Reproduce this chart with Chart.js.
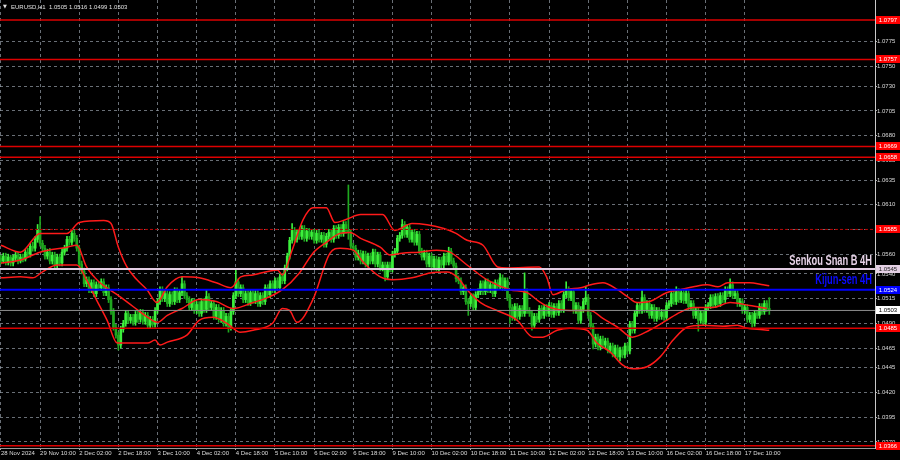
<!DOCTYPE html>
<html><head><meta charset="utf-8">
<script src="https://cdn.jsdelivr.net/npm/chart.js@4.4.1/dist/chart.umd.min.js"></script>
<style>html,body{margin:0;padding:0;background:#000;}canvas{display:block}</style>
</head><body>
<canvas id="c" width="900" height="460" style="width:900px;height:460px"></canvas>
<script>
// ---- DATA (hourly candles, prices in pips above 1.0000, e.g. 555 = 1.0555) ----
const symbol = 'EURUSD,H1';
const openP = [556,553,558,552,557,551,556,559,553,
557,555,562,560,568,566,575,584,
571,566,558,562,553,559,549,557,551,562,566,575,572,581,
576,566,550,543,530,534,524,531,520,529,526,532,521,526,514,502,486,478,468,484,490,500,493,496,
491,499,494,501,492,498,488,494,489,503,512,524,515,520,510,519,512,523,514,521,530,518,514,506,
512,503,509,500,512,504,517,506,510,497,506,494,503,490,497,486,502,518,532,520,526,514,520,511,
521,513,520,510,518,512,526,519,530,524,533,526,537,533,546,558,574,584,575,582,578,586,576,583,
578,582,574,581,575,579,570,578,582,575,586,579,587,581,590,584,582,568,566,557,561,553,560,550,
558,553,562,550,559,546,549,537,549,545,560,563,576,579,590,580,587,575,582,572,580,563,557,561,
550,558,547,555,546,554,549,558,552,563,553,548,535,533,522,526,512,510,517,506,519,522,530,522,
532,524,529,520,531,527,536,526,533,516,506,496,507,497,505,500,522,503,500,488,497,494,505,498,
506,500,508,499,507,501,510,504,519,524,516,522,503,508,493,504,512,516,498,487,469,476,466,474,
468,472,463,467,459,465,456,463,458,467,462,489,483,500,508,503,516,504,510,498,506,495,503,497,
501,496,508,510,520,512,522,514,521,513,520,507,510,498,503,493,500,491,506,508,516,509,517,510,
518,514,524,520,529,518,520,510,512,503,506,494,498,490,500,498,507,502,510,505];
const highP = [559,561,561,560,559,559,562,562,560,
560,565,566,571,572,578,590,598,
574,569,565,566,562,562,560,560,566,569,578,578,585,584,
579,569,553,546,537,537,534,534,532,532,535,535,529,529,517,505,489,481,487,493,503,503,499,499,
502,502,504,504,501,501,497,497,506,515,527,527,523,523,522,522,526,526,524,537,533,521,517,515,
515,512,512,515,515,524,520,513,513,509,509,506,506,500,500,505,521,544,535,529,529,523,523,524,
524,523,523,521,521,529,529,533,533,536,536,540,540,549,561,577,591,587,585,585,589,589,586,586,
585,585,584,584,582,582,581,585,585,589,589,590,590,593,593,630,585,571,569,564,564,563,563,561,
561,565,565,562,562,552,552,552,552,563,566,579,582,595,593,590,590,585,585,583,583,566,564,564,
561,561,558,558,557,557,561,561,567,566,556,551,538,536,529,529,515,520,520,522,525,533,533,535,
535,532,532,534,534,540,539,536,536,519,509,510,510,508,508,541,525,506,503,500,500,508,508,509,
509,511,511,510,510,513,513,522,532,527,525,525,511,511,507,515,527,519,501,490,479,479,477,477,
475,475,470,470,468,468,466,466,470,470,492,492,503,511,511,524,519,513,513,509,509,506,506,504,
504,511,513,523,523,527,525,524,524,523,523,513,513,506,506,503,503,509,511,519,519,520,520,521,
521,527,527,535,532,523,523,515,515,509,509,501,501,503,503,510,510,513,513,516];
const lowP = [550,551,549,549,548,548,553,550,551,
552,553,557,557,563,563,572,568,
563,555,555,550,550,546,546,548,548,559,563,569,569,573,
563,547,540,527,527,521,521,517,517,523,523,518,518,511,499,483,475,463,465,481,487,490,490,488,
488,491,491,489,489,485,485,486,486,500,509,512,512,507,507,509,509,511,511,518,515,511,503,503,
500,500,497,497,501,501,503,503,494,494,491,491,487,487,481,483,499,515,517,517,511,511,508,508,
510,510,507,507,509,509,516,516,521,521,523,523,530,530,543,555,571,572,572,575,575,573,573,575,
575,571,571,572,572,567,567,575,572,572,576,576,578,578,581,575,565,563,554,554,550,550,547,547,
550,550,547,547,543,543,533,534,542,542,557,560,573,576,577,577,572,572,569,569,560,554,554,547,
547,544,544,543,543,546,546,549,549,550,545,532,530,519,519,509,498,507,503,503,516,519,519,519,
521,521,517,517,524,524,523,523,513,490,493,493,494,494,497,497,500,497,483,485,491,491,495,495,
497,497,496,496,498,498,501,501,516,513,513,500,500,490,490,501,509,495,484,464,466,463,463,465,
465,460,460,456,456,453,452,455,455,459,459,480,480,497,500,500,501,501,495,495,492,492,494,494,
493,493,505,507,509,509,511,511,510,510,504,504,495,495,482,490,488,488,503,505,506,506,507,507,
511,511,517,517,515,515,507,507,500,500,491,491,486,487,495,495,499,499,502,499];
const closeP = [553,558,552,557,551,556,559,553,557,
555,562,560,568,566,575,584,571,
566,558,562,553,559,549,557,551,562,566,575,572,581,576,
566,550,543,530,534,524,531,520,529,526,532,521,526,514,502,486,478,468,484,490,500,493,496,491,
499,494,501,492,498,488,494,489,503,512,524,515,520,510,519,512,523,514,521,530,518,514,506,512,
503,509,500,512,504,517,506,510,497,506,494,503,490,497,486,502,518,532,520,526,514,520,511,521,
513,520,510,518,512,526,519,530,524,533,526,537,533,546,558,574,584,575,582,578,586,576,583,578,
582,574,581,575,579,570,578,582,575,586,579,587,581,590,584,582,568,566,557,561,553,560,550,558,
553,562,550,559,546,549,537,549,545,560,563,576,579,590,580,587,575,582,572,580,563,557,561,550,
558,547,555,546,554,549,558,552,563,553,548,535,533,522,526,512,510,517,506,519,522,530,522,532,
524,529,520,531,527,536,526,533,516,506,496,507,497,505,500,522,503,500,488,497,494,505,498,506,
500,508,499,507,501,510,504,519,524,516,522,503,508,493,504,512,516,498,487,469,476,466,474,468,
472,463,467,459,465,456,463,458,467,462,489,483,500,508,503,516,504,510,498,506,495,503,497,501,
496,508,510,520,512,522,514,521,513,520,507,510,498,503,493,500,491,506,508,516,509,517,510,518,
514,524,520,529,518,520,510,512,503,506,494,498,490,500,498,507,502,510,505,503];

// time axis labels and the bar (hour number) each one belongs to
const timeLabels = ['28 Nov 2024','29 Nov 10:00','2 Dec 02:00','2 Dec 18:00','3 Dec 10:00','4 Dec 02:00','4 Dec 18:00','5 Dec 10:00','6 Dec 02:00','6 Dec 18:00','9 Dec 10:00','10 Dec 02:00','10 Dec 18:00','11 Dec 10:00','12 Dec 02:00','12 Dec 18:00','13 Dec 10:00','16 Dec 02:00','16 Dec 18:00','17 Dec 10:00'];
const timeLabelBars = [0,16,32,48,64,80,96,112,128,144,160,176,192,208,224,240,256,272,288,304];
const priceTicks = [1.0775,1.0750,1.0730,1.0705,1.0680,1.0655,1.0635,1.0610,1.0585,1.0560,1.0540,1.0515,1.0490,1.0465,1.0445,1.0420,1.0395,1.0370];

// envelope bands (bar number, pips)
const bbUpperX = [0,8,16,27,32,42,45,48,51.5,55.6,59.7,63.8,68,74,81,88,94,98,103,113,115,119,123.5,127.5,133,136.5,141,147,156,161,168,181,186,190.5,197,203,207,220,223,225.6,231,237,241,246,252,256,260,265,272,277.5,283,288.6,293,297,301,306,311.5,314];
const bbUpper = [569,562,581,581,592,594,591,567,547,534,524,511,527,537,536,531,526,537,539,544,539,564,595,607,607,592,595,600,600,584,591,586,581,574,569,547,546,547,537,519,524,526,529,531,524,517,511,512,521,524,527,529,527,531,531,531,529,528];
const bbMidX = [0,8,16,27,31,35,40.5,47.5,54,60,64,68,74,81,88,95,103,109,115,122,127.5,133,138.6,142.7,147,155,159,164,171,178,183.5,190.5,198.7,208,215,220,224.4,232.6,240.8,246,252,258,265,272,277.5,283,291,298,306,313];
const bbMid = [551,554,562,567,569,547,531,519,507,496,491,498,505,514,512,505,511,516,524,541,561,572,581,582,576,567,559,561,562,564,562,549,534,524,521,512,506,503,503,495,486,476,483,493,501,506,506,511,508,505];
const bbLowerX = [0,8,13,17,23,31,35,39,43.4,47.5,51.5,60,63,65,68,76,81,86.7,92.4,97.7,103,111,115,118,121,127.5,134.5,138.6,144,148,155,160,168,175.4,182.3,186.4,190.5,196,202.7,211,217.5,221.5,227.3,232.6,239.5,243.6,249,254,258.3,264,269.4,274.7,280.4,287,295,301,305,309,314];
const bbLower = [536,537,536,542,549,549,534,514,493,470,470,470,473,468,471,478,493,496,490,481,483,490,505,503,491,514,561,566,564,552,537,534,536,541,542,537,524,511,503,493,476,476,483,485,483,470,461,448,444,446,456,473,486,488,487,488,485,484,483];

// horizontal levels
const redLevels = [1.0797, 1.0757, 1.0669, 1.0658, 1.0485, 1.0366];
const dottedLevel = 1.0585;
const senkouSpanB = 1.0545;
const kijunSen = 1.0524;
const bidPrice = 1.0503;

// ---- CHART ----
const X_MIN = -0.37, X_MAX = 357.2, Y_MIN = 1.03638, Y_MAX = 1.08172;
const toPrice = p => 1 + p / 10000;
const FONT = '"Liberation Sans", Arial, sans-serif';
const UP = '#3cf03c', DOWN = '#1fa81f';
const isUp = closeP.map((c, i) => c >= openP[i]);
const bodies = closeP.map((c, i) => ({x: i, y: [toPrice(openP[i]), toPrice(c)]}));
const wicks = closeP.map((c, i) => ({x: i, y: [toPrice(lowP[i]), toPrice(highP[i])]}));
const colr = isUp.map(u => u ? UP : DOWN);
const bandData = (xs, vs) => xs.map((x, k) => ({x, y: toPrice(vs[k])}));
const hLine = v => [{x: X_MIN, y: v}, {x: X_MAX, y: v}];
const lineDs = (data, color, width, order, extra) => Object.assign({type: 'line', data, borderColor: color, borderWidth: width, pointRadius: 0, fill: false, order}, extra || {});

const datasets = [
  {type: 'bar', data: wicks, backgroundColor: colr, grouped: false, barThickness: 1, maxBarThickness: 1, minBarLength: 1, order: 21},
  {type: 'bar', data: bodies, backgroundColor: colr, grouped: false, barThickness: 2, maxBarThickness: 2, minBarLength: 1, order: 20},
  lineDs(bandData(bbUpperX, bbUpper), '#ff1a1a', 1.5, 10, {cubicInterpolationMode: 'monotone'}),
  lineDs(bandData(bbMidX, bbMid), '#ff1a1a', 1.5, 10, {cubicInterpolationMode: 'monotone'}),
  lineDs(bandData(bbLowerX, bbLower), '#ff1a1a', 1.5, 10, {cubicInterpolationMode: 'monotone'}),
  lineDs(hLine(bidPrice), '#8c8c8c', 1, 4),
  lineDs(hLine(dottedLevel), '#b40000', 1, 3, {borderDash: [3, 2]}),
  lineDs(hLine(senkouSpanB), '#e2cce2', 2, 2),
  lineDs(hLine(kijunSen), '#0000ff', 2, 2),
  ...redLevels.map(v => lineDs(hLine(v), '#dd0000', 1.5, 1))
];

const fmt = v => v.toFixed(4);
const narrow = (ctx, text, x, y, sx, align) => {
  ctx.save(); ctx.translate(x, y); ctx.scale(sx, 1); ctx.textAlign = align; ctx.fillText(text, 0, 0); ctx.restore();
};

const overlay = {
  id: 'overlay',
  beforeDraw(chart) {
    const c = chart.ctx; c.save(); c.fillStyle = '#000'; c.fillRect(0, 0, chart.width, chart.height); c.restore();
  },
  afterDatasetsDraw(chart) {
    const {ctx, chartArea: a, scales: {y}} = chart;
    ctx.save();
    ctx.textBaseline = 'alphabetic';
    ctx.font = 'bold 15px ' + FONT;
    ctx.fillStyle = '#e6d2e6';
    narrow(ctx, 'Senkou Snan B 4H', a.right - 3, y.getPixelForValue(senkouSpanB) - 4, 0.62, 'right');
    ctx.fillStyle = '#0a0aff';
    narrow(ctx, 'Kijun-sen 4H', a.right - 3, y.getPixelForValue(kijunSen) - 6, 0.62, 'right');
    ctx.restore();
  },
  afterDraw(chart) {
    const {ctx, chartArea: a, scales: {y}} = chart;
    ctx.save();
    ctx.font = '6px ' + FONT;
    ctx.textBaseline = 'middle';
    const tag = (v, bg, fg) => {
      const py = Math.round(y.getPixelForValue(v));
      ctx.fillStyle = bg; ctx.fillRect(a.right + 1, py - 4, 24, 8);
      ctx.fillStyle = fg; ctx.textAlign = 'center'; ctx.fillText(fmt(v), a.right + 13, py + 0.5);
    };
    redLevels.forEach(v => tag(v, '#ff0000', '#ffffff'));
    tag(dottedLevel, '#ff0000', '#ffffff');
    tag(senkouSpanB, '#e4d0e4', '#202020');
    tag(kijunSen, '#0000ff', '#ffffff');
    tag(bidPrice, '#ffffff', '#000000');
    // title
    const n = closeP.length - 1;
    ctx.fillStyle = '#e0e0e0'; ctx.textAlign = 'left';
    ctx.font = '5px "DejaVu Sans", sans-serif';
    ctx.fillText('\u25BC', 3, 7);
    ctx.font = '6px ' + FONT;
    ctx.fillText(symbol + '  ' + [openP[n], highP[n], lowP[n], closeP[n]].map(p => fmt(toPrice(p))).join(' '), 11, 7);
    ctx.restore();
  }
};

new Chart(document.getElementById('c'), {
  type: 'bar',
  data: {datasets},
  plugins: [overlay],
  options: {
    responsive: false, animation: false, events: [],
    layout: {padding: 0},
    plugins: {legend: {display: false}, tooltip: {enabled: false}, title: {display: false}},
    scales: {
      x: {
        type: 'linear', min: X_MIN, max: X_MAX, offset: false,
        grid: {offset: false, color: 'rgba(150,158,168,0.7)', lineWidth: 1, drawTicks: true, tickLength: 2, tickColor: '#b0b0b0'},
        border: {display: true, color: '#9a9a9a', dash: [3, 3]},
        ticks: {color: '#dcdcdc', font: {family: FONT, size: 6}, align: 'start', maxRotation: 0, autoSkip: false, padding: 0,
          callback: v => { const k = timeLabelBars.indexOf(v); return k >= 0 ? timeLabels[k] : ''; }},
        afterBuildTicks: s => { s.ticks = timeLabelBars.map(v => ({value: v})); },
        afterFit: s => { s.height = 12; s.paddingLeft = 0; s.paddingRight = 0; }
      },
      y: {
        type: 'linear', position: 'right', min: Y_MIN, max: Y_MAX, beginAtZero: false,
        grid: {color: 'rgba(150,158,168,0.7)', lineWidth: 1, drawTicks: true, tickLength: 2, tickColor: '#b0b0b0'},
        border: {display: true, color: '#c8c8c8', dash: [3, 3]},
        ticks: {color: '#dcdcdc', font: {family: FONT, size: 6}, padding: 0, callback: v => fmt(v)},
        afterBuildTicks: s => { s.ticks = priceTicks.map(v => ({value: v})); },
        afterFit: s => { s.width = 25; s.paddingTop = 0; s.paddingBottom = 0; }
      }
    }
  }
});
</script>
</body></html>
